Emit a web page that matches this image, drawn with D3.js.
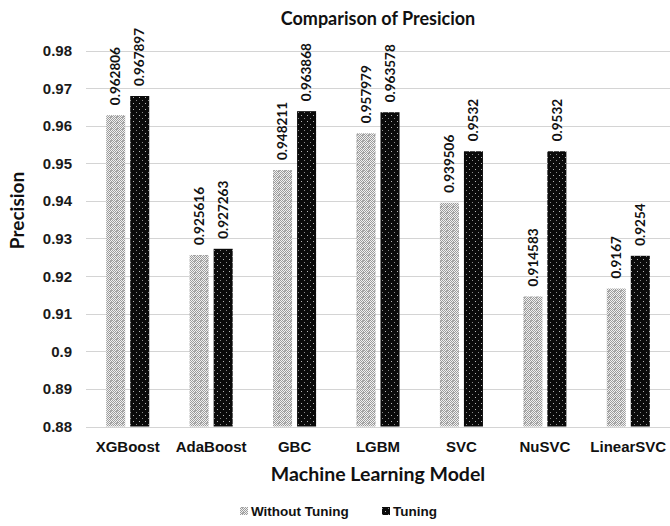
<!DOCTYPE html>
<html>
<head>
<meta charset="utf-8">
<script src="https://cdn.jsdelivr.net/npm/d3@7"></script>
<style>
  html, body { margin: 0; padding: 0; background: #fff; }
  svg { display: block; }
</style>
</head>
<body>
<svg id="chart" width="670" height="526"></svg>
<script>
// Models compared and their precision scores
const models = ["XGBoost", "AdaBoost", "GBC", "LGBM", "SVC", "NuSVC", "LinearSVC"];
const withoutTuning = [0.962806, 0.925616, 0.948211, 0.957979, 0.939506, 0.914583, 0.9167];
const tuning = [0.967897, 0.927263, 0.963868, 0.963578, 0.9532, 0.9532, 0.9254];
const withoutLabels = ["0.962806", "0.925616", "0.948211", "0.957979", "0.939506", "0.914583", "0.9167"];
const tuningLabels = ["0.967897", "0.927263", "0.963868", "0.963578", "0.9532", "0.9532", "0.9254"];
const yTicks = [0.88, 0.89, 0.9, 0.91, 0.92, 0.93, 0.94, 0.95, 0.96, 0.97, 0.98];
const yTickLabels = ["0.88", "0.89", "0.9", "0.91", "0.92", "0.93", "0.94", "0.95", "0.96", "0.97", "0.98"];
const seriesNames = ["Without Tuning", "Tuning"];

const svg = d3.select("#chart");
const margin = { left: 86, right: 0, top: 50.5, bottom: 99.5 };
const W = 670, H = 526;

const x = d3.scaleBand().domain(models).range([margin.left, W - margin.right]).padding(0);
const y = d3.scaleLinear().domain([0.88, 0.98]).range([H - margin.bottom, margin.top]);

// Fill patterns for the two series
const defs = svg.append("defs");
const pw = defs.append("pattern").attr("id", "patWithout")
  .attr("patternUnits", "userSpaceOnUse").attr("width", 6).attr("height", 6);
pw.append("rect").attr("width", 6).attr("height", 6).attr("fill", "#f0f0f0");
for (let i = 0; i < 6; i++) for (let j = 0; j < 6; j++) {
  if ((i + j) % 2 === 0) pw.append("rect").attr("x", i).attr("y", j).attr("width", 1).attr("height", 1).attr("fill", "#9c9c9c");
}
pw.append("rect").attr("x", 2).attr("y", 2).attr("width", 2).attr("height", 2).attr("fill", "#a8a8a8");

const pt = defs.append("pattern").attr("id", "patTuning")
  .attr("patternUnits", "userSpaceOnUse").attr("width", 6).attr("height", 6);
pt.append("rect").attr("width", 6).attr("height", 6).attr("fill", "#0a0a0a");
pt.append("rect").attr("x", 1).attr("y", 1).attr("width", 1).attr("height", 1).attr("fill", "#b8b8b8");
pt.append("rect").attr("x", 4).attr("y", 4).attr("width", 1).attr("height", 1).attr("fill", "#8a8a8a");

// Horizontal gridlines
svg.append("g").selectAll("line").data(yTicks).join("line")
  .attr("x1", margin.left).attr("x2", W - margin.right)
  .attr("y1", d => Math.round(y(d)) + 0.5).attr("y2", d => Math.round(y(d)) + 0.5)
  .attr("stroke", "#d4d4d4").attr("stroke-width", 1);

// Y axis tick labels
svg.append("g").selectAll("text").data(yTicks).join("text")
  .attr("x", 72).attr("y", d => y(d)).attr("dy", "0.36em")
  .attr("text-anchor", "end")
  .attr("font-family", "'Liberation Sans', Arial, sans-serif")
  .attr("font-weight", "bold").attr("font-size", 15).attr("fill", "#1a1a1a")
  .text((d, i) => yTickLabels[i]);

// Bars
const bw = x.step() * 0.228;
const gap = x.step() * 0.06;
const offsets = [-(gap / 2 + bw), gap / 2];
const series = [withoutTuning, tuning];
const fills = ["url(#patWithout)", "url(#patTuning)"];
const labels = [withoutLabels, tuningLabels];

series.forEach((vals, s) => {
  const g = svg.append("g");
  g.selectAll("rect").data(models).join("rect")
    .attr("x", d => x(d) + x.bandwidth() / 2 + offsets[s])
    .attr("y", (d, i) => y(vals[i]))
    .attr("width", bw)
    .attr("height", (d, i) => y(0.88) - y(vals[i]))
    .attr("fill", fills[s]);
  g.selectAll("text").data(models).join("text")
    .attr("transform", (d, i) => {
      const cx = x(d) + x.bandwidth() / 2 + offsets[s] + bw / 2;
      return `translate(${cx},${y(vals[i]) - 10}) rotate(-90)`;
    })
    .attr("dy", "0.35em")
    .attr("text-anchor", "start")
    .attr("font-family", "Lato, 'Open Sans', sans-serif")
    .attr("font-weight", "bold").attr("font-size", 13.5).attr("fill", "#111")
    .text((d, i) => labels[s][i]);
});

// X axis category labels
svg.append("g").selectAll("text").data(models).join("text")
  .attr("x", d => x(d) + x.bandwidth() / 2).attr("y", 452)
  .attr("text-anchor", "middle")
  .attr("font-family", "'Liberation Sans', Arial, sans-serif")
  .attr("font-weight", "bold").attr("font-size", 15).attr("fill", "#111")
  .text(d => d);

// Titles
const cx = (margin.left + W - margin.right) / 2;
svg.append("text").attr("x", cx).attr("y", 25).attr("text-anchor", "middle")
  .attr("font-family", "Lato, sans-serif").attr("font-weight", "bold")
  .attr("font-size", 18).attr("fill", "#111").text("Comparison of Presicion");
svg.append("text").attr("x", cx).attr("y", 481).attr("text-anchor", "middle")
  .attr("font-family", "Lato, sans-serif").attr("font-weight", "bold")
  .attr("font-size", 19.5).attr("fill", "#111").text("Machine Learning Model");
svg.append("text").attr("transform", `translate(24,${(margin.top + H - margin.bottom) / 2 - 28}) rotate(-90)`)
  .attr("text-anchor", "middle")
  .attr("font-family", "Lato, sans-serif").attr("font-weight", "bold")
  .attr("font-size", 19).attr("fill", "#111").text("Precision");

// Legend
const legend = svg.append("g");
const legendX = [240, 382];
seriesNames.forEach((name, i) => {
  legend.append("rect").attr("x", legendX[i]).attr("y", 507).attr("width", 8).attr("height", 8)
    .attr("fill", fills[i]);
  legend.append("text").attr("x", legendX[i] + 11).attr("y", 516)
    .attr("font-family", "'Liberation Sans', Arial, sans-serif")
    .attr("font-weight", "bold").attr("font-size", 13.5).attr("fill", "#111")
    .text(name);
});
</script>
</body>
</html>
